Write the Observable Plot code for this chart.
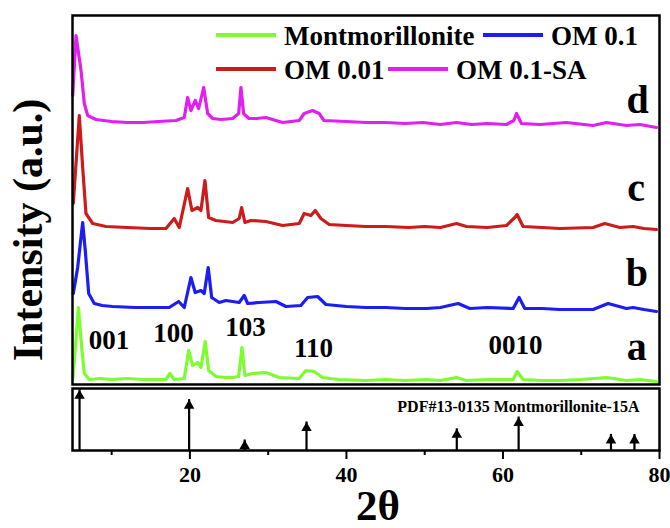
<!DOCTYPE html>
<html><head><meta charset="utf-8">
<script src="https://cdn.jsdelivr.net/npm/d3@7"></script>
<script src="https://cdn.jsdelivr.net/npm/@observablehq/plot@0.6"></script>
<style>
body{margin:0;background:#fff;}
#chart{position:relative;width:670px;height:528px;font-family:"Liberation Serif","Times New Roman",serif;}
#chart > svg{position:absolute;left:0;overflow:visible;background:transparent;}
</style></head><body><div id="chart"></div>
<script>
// ---------- data ----------
const seriesNames = ["Montmorillonite", "OM 0.1", "OM 0.01", "OM 0.1-SA"];
const seriesColors = ["#7dfc2f", "#1c1cf5", "#cc1b1b", "#e01ff0"];

// a: Montmorillonite
const montX = [5.03,5.3,5.75,6.21,6.51,7.15,8.5,10,12,14,16.94,17.45,18.0,19.28,19.84,20.35,20.99,21.41,21.96,22.39,23.33,24.5,25.46,26.23,26.65,27.03,28.01,29.71,31.41,33.97,34.82,35.88,36.95,39,42.48,45,47.5,50.24,52,54.07,55.34,58,61.3,61.81,62.57,65,67.26,70,73.23,75.78,77.5,79.61];
const montY = [5,30,77,34,11,5,6,5,6,5,5,11,5,6,34,19,22,17,43,14,8,7,7,8,37,9,11,12,7,6,14,13,7,5,4,5,4,5,4,7,4,5,5,13,5,4,4,5,7,4,5,3];

// b: OM 0.1
const om01X = [5.1,5.66,6.3,6.63,7.07,7.78,8.8,10.13,13,16,17.36,18.56,19.28,20.13,20.68,21.41,21.83,22.34,22.78,23.75,24.6,26.3,26.94,27.38,28.86,30.99,32.27,34.18,35.04,36.32,37.38,40,42.48,45,47.5,50.24,52,54.27,55.77,58,61.3,62.06,62.79,65,67.26,71.51,73.43,75.78,76.62,78,79.61];
const om01Y = [91,117,162,134,91,81,79,78,77,77,77,83,77,107,92,94,91,117,87,82,84,82,89,81,82,83,78,79,87,88,80,78,77,77,76,76,77,81,76,77,76,87,76,76,75,75,81,76,77,75,73];

// c: OM 0.01
const om001X = [5.1,5.87,6.3,6.72,7.58,9.28,12,15,16.94,18.0,18.64,19.71,20.26,20.99,21.41,21.92,22.39,23.33,25.46,26.3,26.61,27.03,27.8,29.71,31.85,33.97,34.6,35.46,36.01,36.74,37.8,40,42.48,45,48,50,52,54.07,55.34,58,60.45,61.51,61.81,62.57,65,67.26,71.51,73.01,74.92,76.62,78,79.61];
const om001Y = [181,269,217,171,161,158,157,156,156,166,157,196,174,177,174,204,167,164,162,166,177,162,164,163,159,161,171,169,174,166,160,159,158,158,157,158,157,161,158,157,159,167,170,158,157,156,157,161,157,158,156,155];

// d: OM 0.1-SA
const omSAX = [5.03,5.45,6.09,6.51,6.94,8.0,10,12,14,16,18.22,19.28,19.71,20.13,20.68,21.12,21.76,22.27,22.91,24,25.46,26.23,26.52,26.86,27.54,28.5,29.71,31.85,33.97,34.6,35.68,36.52,37.12,40,42.48,45,47.5,49.8,52,54.07,56,58,60.45,61.39,61.73,62.37,64.71,68.12,71.51,73.23,75.78,77.5,79.61];
const omSAY = [289,349,314,281,269,265,263,262,262,263,264,267,287,274,284,276,297,271,266,265,266,271,297,271,266,266,267,262,264,271,274,271,264,263,262,262,261,262,260,262,260,261,260,264,271,261,260,262,259,262,259,260,257];

// reference pattern PDF#13-0135
const refPos = [5.9, 19.9, 27.0, 34.9, 54.1, 62.0, 73.8, 76.8];
const refInt = [98, 82, 17, 46, 35, 54, 26, 26];

// annotations
const hklLabels = ["001", "100", "103", "110", "0010"];
const hklX = [9.66, 17.9, 27.1, 35.8, 61.6];
const hklY = [44, 51, 57, 36, 39];
const curveLetters = ["a", "b", "c", "d"];
const letterX = [77.1, 77.1, 77.0, 77.2];
const letterY = [37, 111, 196, 284];

const majorTicks = [20, 40, 60, 80];
const minorTicks = [10, 30, 50, 70];

// ---------- build ----------
const FONT = '"Liberation Serif", "Times New Roman", serif';
const xs = [montX, om01X, om001X, omSAX];
const ys = [montY, om01Y, om001Y, omSAY];
const rows = seriesNames.flatMap((name, k) => xs[k].map((x, i) => ({name, x, y: ys[k][i]})));

const baseStyle = {fontFamily: FONT, fontWeight: "bold", overflow: "visible", background: "transparent", color: "black"};

const topPlot = Plot.plot({
  width: 670, height: 388,
  marginTop: 15, marginBottom: 4, marginLeft: 72, marginRight: 11,
  x: {domain: [5, 80], axis: null},
  y: {domain: [0, 369], axis: null},
  color: {domain: seriesNames, range: seriesColors},
  style: baseStyle,
  marks: [
    Plot.line(rows, {x: "x", y: "y", z: "name", stroke: "name", strokeWidth: 3.2, strokeLinejoin: "round"}),
    Plot.text(hklLabels, {x: (d, i) => hklX[i], y: (d, i) => hklY[i], text: d => d, fontSize: 27, fontWeight: "bold", fill: "black"}),
    Plot.text(curveLetters, {x: (d, i) => letterX[i], y: (d, i) => letterY[i], text: d => d, fontSize: 40, fontWeight: "bold", fill: "black"}),
    Plot.text(["Intensity (a.u.)"], {frameAnchor: "left", text: d => d, textAnchor: "middle", rotate: -90, dx: -44, dy: 30, fontSize: 42, fontWeight: "bold", fill: "black"}),
    Plot.frame({stroke: "black", strokeWidth: 2.5})
  ]
});

const bottomPlot = Plot.plot({
  width: 670, height: 144,
  marginTop: 4, marginBottom: 78, marginLeft: 72, marginRight: 11,
  x: {domain: [5, 80], label: null},
  y: {domain: [0, 100], axis: null},
  style: baseStyle,
  marks: [
    Plot.ruleX(refPos, {x: d => d, y1: 0, y2: (d, i) => refInt[i], stroke: "black", strokeWidth: 2.2}),
    Plot.dot(refPos, {x: d => d, y: (d, i) => refInt[i], symbol: "triangle", r: 3.9, fill: "black", stroke: "none", dy: 6}),
    Plot.text(["PDF#13-0135 Montmorillonite-15A"], {frameAnchor: "top-right", text: d => d, dx: -20, dy: 18, lineAnchor: "middle", fontSize: 16, fontWeight: "bold", fill: "black"}),
    Plot.axisX({ticks: majorTicks, tickSize: 9, tickPadding: 7, strokeWidth: 2, fontSize: 22, fontWeight: "bold", label: null, tickFormat: d => String(d)}),
    Plot.axisX({ticks: minorTicks, tickSize: 5, strokeWidth: 2, label: null, tickFormat: () => ""}),
    Plot.text(["2θ"], {frameAnchor: "bottom", text: d => d, dx: 12, dy: 56, lineAnchor: "middle", fontSize: 43, fontWeight: "bold", fill: "black"}),
    Plot.frame({stroke: "black", strokeWidth: 2.5})
  ]
});

const chart = document.getElementById("chart");
topPlot.style.top = "0px";
bottomPlot.style.top = "384px";
chart.appendChild(topPlot);
chart.appendChild(bottomPlot);

// legend (inside the top panel, as in the original)
const legendLayout = [
  {row: 0, left: 216}, {row: 0, left: 483},
  {row: 1, left: 216}, {row: 1, left: 388}
];
const rowY = [35, 69];
const ns = "http://www.w3.org/2000/svg";
const leg = document.createElementNS(ns, "svg");
leg.setAttribute("width", 670); leg.setAttribute("height", 100);
leg.style.position = "absolute"; leg.style.left = "0px"; leg.style.top = "0px";
leg.style.pointerEvents = "none";
seriesNames.forEach((name, i) => {
  const L = legendLayout[i], y = rowY[L.row];
  const ln = document.createElementNS(ns, "line");
  ln.setAttribute("x1", L.left); ln.setAttribute("x2", L.left + 60);
  ln.setAttribute("y1", y); ln.setAttribute("y2", y);
  ln.setAttribute("stroke", seriesColors[i]); ln.setAttribute("stroke-width", 4);
  leg.appendChild(ln);
  const t = document.createElementNS(ns, "text");
  t.setAttribute("x", L.left + 68); t.setAttribute("y", y + 9.5);
  t.setAttribute("font-family", FONT); t.setAttribute("font-weight", "bold");
  t.setAttribute("font-size", 27); t.setAttribute("fill", "black");
  t.textContent = name;
  leg.appendChild(t);
});
chart.appendChild(leg);
</script></body></html>
